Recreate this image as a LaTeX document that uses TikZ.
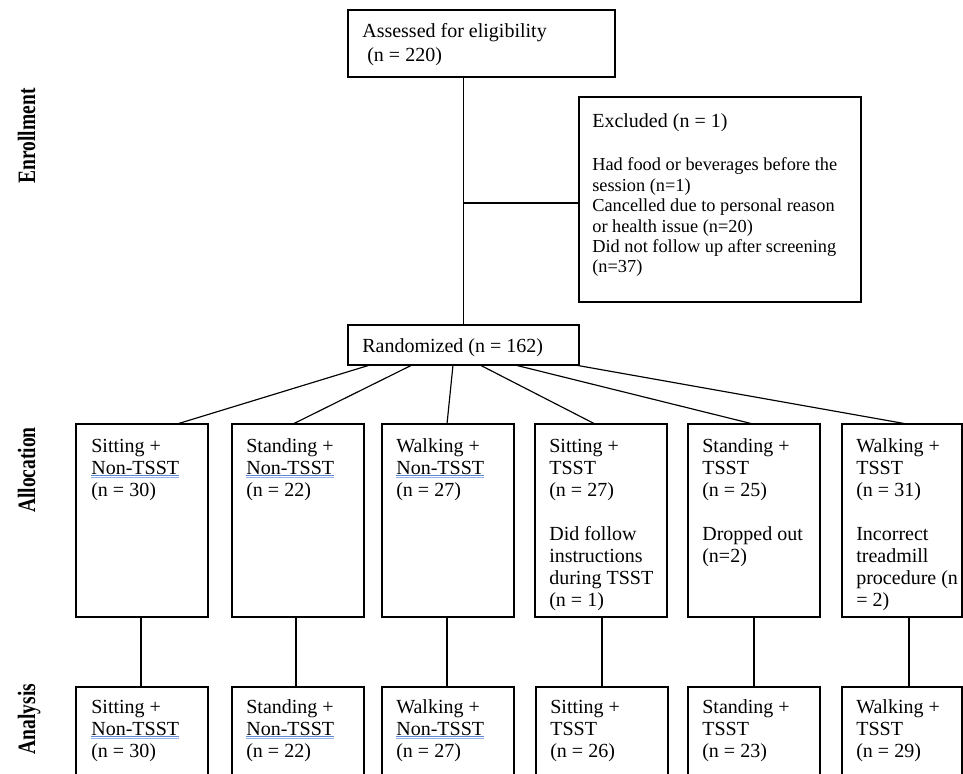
\documentclass[tikz,border=0pt]{standalone}
\usepackage{fontspec}
\setmainfont{Liberation Serif}
\usetikzlibrary{calc}
\definecolor{ulblueA}{RGB}{95,135,210}
\definecolor{ulblueB}{RGB}{150,180,235}
\newsavebox\ulbox
\newcommand\spellul[1]{\sbox\ulbox{#1}\rlap{\color{ulblueA}\rule[-1.1pt]{\wd\ulbox}{0.5pt}}\rlap{\color{ulblueB}\rule[-2.3pt]{\wd\ulbox}{0.5pt}}\usebox\ulbox}
\newcommand\pbox[5]{\node[box, minimum width={(#4-#2)*0.6pt}, minimum height={(#5-#3)*0.6pt}] (#1) at ({(#2+#4)/2},{(#3+#5)/2}) {};}
\begin{document}
\begin{tikzpicture}[x=0.6pt, y=-0.6pt,
  box/.style={draw, line width=0.8pt, inner sep=0pt, outer sep=0pt},
  txt/.style={inner sep=0pt, anchor=base west, font=\fontsize{12}{13.2}\selectfont},
  smalltxt/.style={inner sep=0pt, anchor=base west, font=\fontsize{11}{12.24}\selectfont},
  lab/.style={rotate=90, anchor=base, inner sep=0pt, font=\fontsize{15}{17}\selectfont\bfseries},
  conn/.style={line width=0.7pt}]
\useasboundingbox (0,0) rectangle (963,774);
\clip (0,0) rectangle (963,774);

% side labels
\node[lab] (lenr) at (35,136) {\scalebox{0.78}[1]{Enrollment}};
\node[lab] (lall) at (35,470) {\scalebox{0.78}[1]{Allocation}};
\node[lab] (lana) at (35,719) {\scalebox{0.78}[1]{Analysis}};

% enrollment
\pbox{ass}{348}{10}{615}{77}
\node[txt] (asst) at ($(ass.north west)+(14,27)$) {\vtop{\baselineskip=14.7pt\hbox{Assessed for eligibility}\hbox{ (n = 220)}}};

\pbox{excl}{579}{97}{861}{302}
\node[smalltxt] (exclt) at ($(excl.north west)+(13,30)$) {\vtop{\hbox{\fontsize{12}{13.2}\selectfont Excluded (n = 1)}\hbox{}\vskip1.9pt\hbox{Had food or beverages before the}\hbox{session (n=1)}\hbox{Cancelled due to personal reason}\hbox{or health issue (n=20)}\hbox{Did not follow up after screening}\hbox{(n=37)}}};

\pbox{rand}{348}{325}{579}{365}
\node[txt] (randt) at ($(rand.north west)+(14,27)$) {Randomized (n = 162)};

\draw[conn] (rand.north) -- (rand.north |- ass.south);
\coordinate (tee) at ($(excl.west)+(0,3.5)$);
\draw[conn] (tee) -- (tee -| rand.north);

% allocation
\pbox{a1}{76}{424}{208}{617}
\pbox{a2}{232}{424}{364}{617}
\pbox{a3}{382}{424}{514}{617}
\pbox{a4}{535}{424}{667}{617}
\pbox{a5}{688}{424}{820}{617}
\pbox{a6}{842}{424}{962}{617}

\node[txt] (a1t) at ($(a1.north west)+(15,28)$) {\vtop{\hbox{Sitting +}\hbox{\spellul{Non-TSST}}\hbox{(n = 30)}}};
\node[txt] (a2t) at ($(a2.north west)+(14,28)$) {\vtop{\hbox{Standing +}\hbox{\spellul{Non-TSST}}\hbox{(n = 22)}}};
\node[txt] (a3t) at ($(a3.north west)+(14,28)$) {\vtop{\hbox{Walking +}\hbox{\spellul{Non-TSST}}\hbox{(n = 27)}}};
\node[txt] (a4t) at ($(a4.north west)+(14,28)$) {\vtop{\hbox{Sitting +}\hbox{TSST}\hbox{(n = 27)}\hbox{}\hbox{Did follow}\hbox{instructions}\hbox{during TSST}\hbox{(n = 1)}}};
\node[txt] (a5t) at ($(a5.north west)+(14,28)$) {\vtop{\hbox{Standing +}\hbox{TSST}\hbox{(n = 25)}\hbox{}\hbox{Dropped out}\hbox{(n=2)}}};
\node[txt] (a6t) at ($(a6.north west)+(14,28)$) {\vtop{\hbox{Walking +}\hbox{TSST}\hbox{(n = 31)}\hbox{}\hbox{Incorrect}\hbox{treadmill}\hbox{procedure (n}\hbox{= 2)}}};

\draw[conn] ($(rand.south west)+(22,0)$) -- ($(a1.north west)+(101,0)$);
\draw[conn] ($(rand.south west)+(64,0)$) -- ($(a2.north west)+(61,0)$);
\draw[conn] ($(rand.south west)+(105,0)$) -- ($(a3.north west)+(65,0)$);
\draw[conn] ($(rand.south west)+(132,0)$) -- ($(a4.north west)+(60,0)$);
\draw[conn] ($(rand.south west)+(167,0)$) -- ($(a5.north west)+(65,0)$);
\draw[conn] ($(rand.south west)+(227,0)$) -- ($(a6.north west)+(65,0)$);

% analysis
\pbox{b1}{76}{687}{208}{800}
\pbox{b2}{232}{687}{364}{800}
\pbox{b3}{382}{687}{514}{800}
\pbox{b4}{536}{687}{668}{800}
\pbox{b5}{688}{687}{820}{800}
\pbox{b6}{842}{687}{962}{800}

\node[txt] (b1t) at ($(b1.north west)+(15,26)$) {\vtop{\hbox{Sitting +}\hbox{\spellul{Non-TSST}}\hbox{(n = 30)}}};
\node[txt] (b2t) at ($(b2.north west)+(14,26)$) {\vtop{\hbox{Standing +}\hbox{\spellul{Non-TSST}}\hbox{(n = 22)}}};
\node[txt] (b3t) at ($(b3.north west)+(14,26)$) {\vtop{\hbox{Walking +}\hbox{\spellul{Non-TSST}}\hbox{(n = 27)}}};
\node[txt] (b4t) at ($(b4.north west)+(14,26)$) {\vtop{\hbox{Sitting +}\hbox{TSST}\hbox{(n = 26)}}};
\node[txt] (b5t) at ($(b5.north west)+(14,26)$) {\vtop{\hbox{Standing +}\hbox{TSST}\hbox{(n = 23)}}};
\node[txt] (b6t) at ($(b6.north west)+(14,26)$) {\vtop{\hbox{Walking +}\hbox{TSST}\hbox{(n = 29)}}};

\draw[conn] ($(a1.south west)+(65,0)$) -- ($(b1.north west)+(65,0)$);
\draw[conn] ($(a2.south west)+(64,0)$) -- ($(b2.north west)+(64,0)$);
\draw[conn] ($(a3.south west)+(65,0)$) -- ($(b3.north west)+(65,0)$);
\draw[conn] ($(a4.south west)+(67,0)$) -- ($(b4.north west)+(66,0)$);
\draw[conn] ($(a5.south west)+(66,0)$) -- ($(b5.north west)+(66,0)$);
\draw[conn] ($(a6.south west)+(67,0)$) -- ($(b6.north west)+(67,0)$);
\end{tikzpicture}
\end{document}
